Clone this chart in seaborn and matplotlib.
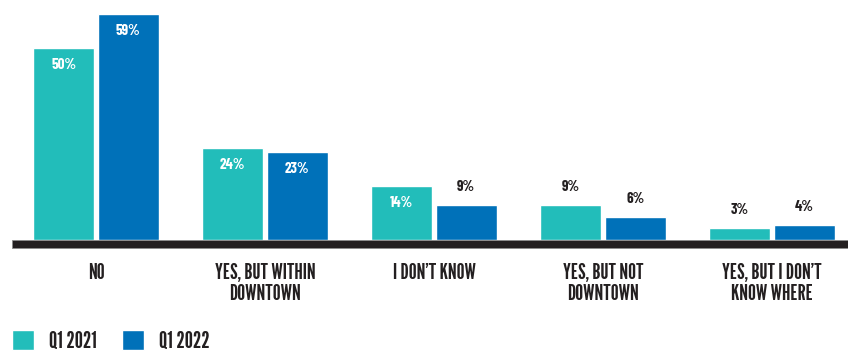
import matplotlib
matplotlib.use("Agg")
import matplotlib.pyplot as plt
from matplotlib import font_manager as fm
from matplotlib.patches import Rectangle
import pandas as pd
import seaborn as sns

# Survey answers and share of respondents (%) per quarter
categories = ["NO", "YES, BUT WITHIN\nDOWNTOWN", "I DON\u2019T KNOW",
              "YES, BUT NOT\nDOWNTOWN", "YES, BUT I DON\u2019T\nKNOW WHERE"]
periods = ["Q1 2021", "Q1 2022"]
q1_2021 = [50, 24, 14, 9, 3]
q1_2022 = [59, 23, 9, 6, 4]

colors = ["#22BDBA", "#0071B9"]
text_dark = "#231F20"


def first_installed(candidates):
    names = {f.name for f in fm.fontManager.ttflist}
    for c in candidates:
        if c in names:
            return c
    return "DejaVu Sans"


label_font = first_installed(["League Gothic", "Oswald", "Antonio",
                              "Saira Extra Condensed", "Barlow Condensed"])
value_font = first_installed(["Barlow Condensed", "Saira Condensed",
                              "Roboto Condensed"])

df = pd.DataFrame({
    "answer": categories * 2,
    "period": [periods[0]] * len(categories) + [periods[1]] * len(categories),
    "share": q1_2021 + q1_2022,
})

sns.set_theme(style="white")
plt.rcParams["font.family"] = [label_font, "DejaVu Sans"]

W, H = 848, 353
fig = plt.figure(figsize=(W / 100, H / 100), dpi=100)
renderer = fig.canvas.get_renderer()


def fit_size(text, family, weight, target_px, base=20.0):
    """Font size (pt) at which `text` is `target_px` pixels wide."""
    t = fig.text(0, 0, text, fontsize=base, family=family, weight=weight)
    w = t.get_window_extent(renderer).width
    t.remove()
    return base * target_px / w


label_w = "normal" if label_font == "League Gothic" else "bold"
label_fs = fit_size("YES, BUT WITHIN", label_font, label_w, 101)
value_fs = fit_size("50%", value_font, "bold", 25)

ax = fig.add_axes([12 / W, (H - 240) / H, (W - 12) / W, 240 / H])

sns.barplot(data=df, x="answer", y="share", hue="period", order=categories,
            hue_order=periods, palette=colors, width=0.763, gap=0.054,
            saturation=1, ax=ax)

ax.set_xlim(-0.497, 4.45)
ax.set_ylim(0, 62.6)
ax.set_xlabel("")
ax.set_ylabel("")
ax.set_yticks([])
for s in ax.spines.values():
    s.set_visible(False)

# line pitch of ~21 px between the two lines of a category label
probe1 = fig.text(0, 0, "A", fontsize=label_fs, family=label_font, linespacing=1.0)
probe2 = fig.text(0, 0, "A\nA", fontsize=label_fs, family=label_font, linespacing=1.0)
pitch = probe2.get_window_extent(renderer).height - probe1.get_window_extent(renderer).height
probe1.remove()
probe2.remove()

ax.tick_params(axis="x", length=0, pad=16.5)
for lbl in ax.get_xticklabels():
    lbl.set_fontsize(label_fs)
    lbl.set_fontweight(label_w)
    lbl.set_color(text_dark)
    lbl.set_linespacing(21.0 / pitch)

# Thick dark baseline under the bars
ax.add_patch(Rectangle((0, -8 / 240), 1, 8 / 240, transform=ax.transAxes,
                       facecolor=text_dark, edgecolor="#8C8C8C", lw=0.6,
                       clip_on=False, zorder=3))

# Value labels: inside the bar when tall enough, otherwise above it
for container, values in zip(ax.containers, [q1_2021, q1_2022]):
    for bar, v in zip(container, values):
        x = bar.get_x() + bar.get_width() / 2
        inside = v >= 10
        ax.annotate(f"{v}%", (x, v), xytext=(0, -12.2 if inside else 13),
                    textcoords="offset points", ha="center", va="center",
                    color="white" if inside else text_dark,
                    fontsize=value_fs, fontweight="bold", family=value_font)

leg_fs = fit_size("Q1 2021", label_font, label_w, 48)
px = leg_fs * 100 / 72
sns.move_legend(ax, "lower left", bbox_to_anchor=(12 / W, 1 / H),
                bbox_transform=fig.transFigure, ncol=2, frameon=False,
                title=None, fontsize=leg_fs, handlelength=22 / px,
                handleheight=22 / px, handletextpad=15 / px,
                columnspacing=25 / px, borderpad=0, borderaxespad=0)
for t in ax.get_legend().get_texts():
    t.set_color(text_dark)
    t.set_fontweight(label_w)

fig.savefig("out.png", dpi=100)
